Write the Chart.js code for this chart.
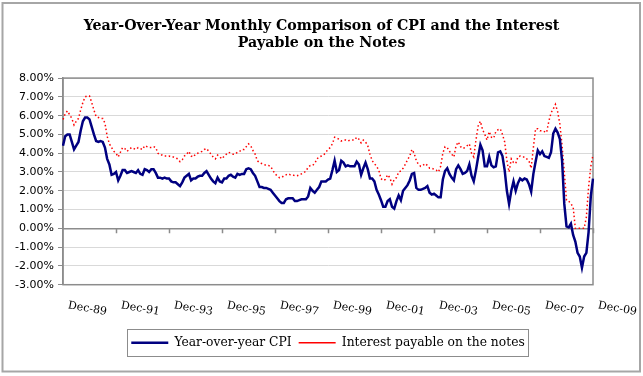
<!DOCTYPE html>
<html>
<head>
<meta charset="utf-8">
<title>CPI vs Notes</title>
<script src="https://cdn.jsdelivr.net/npm/chart.js@4.4.0/dist/chart.umd.min.js"></script>
<style>
  html, body { margin: 0; padding: 0; background: #fff; }
  canvas { display: block; }
</style>
</head>
<body>
<canvas id="cpiChart" width="643" height="376"></canvas>
<script>
// monthly categories, Dec-89 .. Dec-09
const monthNames = ["Jan", "Feb", "Mar", "Apr", "May", "Jun", "Jul", "Aug", "Sep", "Oct", "Nov", "Dec"]
const months = []
for (let i = 0; i < 241; i++) {
  const m = (11 + i) % 12
  const y = 1989 + Math.floor((11 + i) / 12)
  months.push(monthNames[m] + "-" + String(y).slice(2))
}

const tickLabels = ["Dec-89", "Dec-91", "Dec-93", "Dec-95", "Dec-97", "Dec-99", "Dec-01", "Dec-03", "Dec-05", "Dec-07", "Dec-09"]
const yTicks = [-3, -2, -1, 0, 1, 2, 3, 4, 5, 6, 7, 8]

// Year-over-year CPI, %
const cpi = [
  4.4,
  4.9, 5.0, 5.0, 4.6, 4.2, 4.4, 4.6, 5.2, 5.7, 5.9, 5.9, 5.8,
  5.4, 5.0, 4.65, 4.6, 4.65, 4.6, 4.3, 3.7, 3.4, 2.85, 2.9, 3.0,
  2.55, 2.8, 3.1, 3.1, 2.95, 3.0, 3.05, 3.0, 2.95, 3.1, 2.9, 2.85,
  3.15, 3.1, 3.0, 3.15, 3.15, 2.95, 2.7, 2.7, 2.65, 2.7, 2.65, 2.65,
  2.5, 2.45, 2.45, 2.35, 2.25, 2.45, 2.7, 2.8, 2.9, 2.55, 2.65, 2.65,
  2.75, 2.8, 2.8, 2.95, 3.05, 2.85, 2.65, 2.5, 2.4, 2.7, 2.5, 2.45,
  2.65, 2.65, 2.8, 2.85, 2.75, 2.7, 2.9, 2.85, 2.9, 2.9, 3.15, 3.2,
  3.15, 2.95, 2.8, 2.5, 2.2, 2.2, 2.15, 2.15, 2.1, 2.05, 1.9, 1.75,
  1.6, 1.45, 1.35, 1.35, 1.55, 1.6, 1.6, 1.6, 1.45, 1.45, 1.5, 1.55,
  1.55, 1.55, 1.7, 2.15, 2.0, 1.9, 2.05, 2.2, 2.5, 2.5, 2.5, 2.6,
  2.65, 3.1, 3.6, 3.0, 3.1, 3.6, 3.5, 3.3, 3.35, 3.3, 3.3, 3.3,
  3.55, 3.4, 2.85, 3.2, 3.5, 3.15, 2.65, 2.65, 2.5, 2.05, 1.8, 1.5,
  1.15, 1.15, 1.45, 1.55, 1.15, 1.05, 1.45, 1.75, 1.5, 2.0, 2.15, 2.3,
  2.55, 2.9, 2.95, 2.15, 2.05, 2.05, 2.1, 2.15, 2.25, 1.9, 1.8, 1.85,
  1.75, 1.65, 1.65, 2.6, 3.05, 3.2, 2.9, 2.7, 2.55, 3.15, 3.35, 3.15,
  2.9, 2.95, 3.05, 3.4, 2.8, 2.5, 3.1, 3.8, 4.45, 4.15, 3.3, 3.3,
  3.8, 3.35, 3.25, 3.3, 4.05, 4.1, 3.85, 3.1, 2.0, 1.3, 2.0, 2.5,
  2.0, 2.4, 2.65, 2.55, 2.65, 2.6, 2.35, 1.95, 2.9, 3.55, 4.15, 3.95,
  4.1, 3.85, 3.8, 3.75, 4.05, 5.05, 5.3, 5.1, 4.75, 3.6, 1.3, 0.1,
  0.05, 0.25, -0.35, -0.7, -1.3, -1.5, -2.1, -1.5, -1.3, -0.2, 1.7, 2.65
]

// Interest payable on the notes, %
const notesRate = [
  5.8,
  6.1, 6.25, 6.05, 5.85, 5.5, 5.7, 5.85, 6.3, 6.7, 7.0, 7.05, 7.05,
  6.7, 6.3, 5.95, 5.9, 5.85, 5.85, 5.6, 4.9, 4.5, 4.3, 4.1, 4.0,
  3.8, 4.05, 4.3, 4.25, 4.1, 4.2, 4.3, 4.25, 4.2, 4.3, 4.25, 4.2,
  4.4, 4.35, 4.3, 4.3, 4.35, 4.3, 4.0, 3.9, 3.9, 3.85, 3.85, 3.85,
  3.8, 3.8, 3.75, 3.7, 3.55, 3.65, 3.85, 3.95, 4.1, 3.85, 3.8, 3.95,
  4.0, 4.05, 4.1, 4.2, 4.25, 4.1, 3.95, 3.8, 3.7, 3.9, 3.8, 3.7,
  3.85, 3.95, 4.05, 4.0, 3.95, 3.95, 4.05, 4.1, 4.2, 4.2, 4.35, 4.5,
  4.4, 4.15, 3.95, 3.6, 3.5, 3.45, 3.4, 3.35, 3.35, 3.3, 3.1, 2.9,
  2.8, 2.7, 2.7, 2.8, 2.85, 2.9, 2.85, 2.85, 2.8, 2.8, 2.85, 2.9,
  2.95, 3.05, 3.25, 3.35, 3.35, 3.45, 3.7, 3.8, 3.85, 3.9, 4.05, 4.2,
  4.3, 4.5, 4.85, 4.8, 4.75, 4.65, 4.7, 4.7, 4.65, 4.7, 4.7, 4.7,
  4.85, 4.75, 4.55, 4.7, 4.6, 4.4, 3.95, 3.6, 3.45, 3.3, 3.1, 2.65,
  2.55, 2.6, 2.85, 2.7, 2.35, 2.6, 2.7, 3.0, 3.05, 3.2, 3.4, 3.65,
  3.85, 4.2, 4.0, 3.6, 3.4, 3.3, 3.35, 3.45, 3.35, 3.2, 3.2, 3.15,
  3.1, 3.0, 3.3, 4.0, 4.35, 4.3, 4.1, 3.95, 3.8, 4.4, 4.6, 4.35,
  4.25, 4.3, 4.4, 4.5, 4.0, 3.8, 4.7, 5.45, 5.7, 5.25, 5.0, 4.7,
  5.15, 4.85, 4.8, 5.15, 5.25, 5.3, 5.0, 4.6, 3.6, 3.0, 3.7, 3.5,
  3.45, 3.8, 3.85, 3.8, 3.8, 3.7, 3.6, 3.2, 4.3, 5.3, 5.3, 5.2,
  5.2, 5.15, 5.1, 5.7, 6.15, 6.35, 6.6, 6.2, 5.55, 4.4, 3.0, 1.5,
  1.45, 1.3, 1.15, 0.0, 0.0, 0.0, 0.0, 0.0, 0.6, 2.2, 3.3, 3.9
]

// labels sit between the 2-year tick marks, shifted for the rotated text
const labelShift = 7.8
const labelPos = tickLabels.map((_, k) => 12 + 24 * k + labelShift)

const framePlugin = {
  id: "frame",
  afterLayout(chart) {
    // center the title on the whole picture, not on the padded box
    const t = chart.titleBlock
    t.left = 0
    t.right = chart.width
    t.width = chart.width
  },
  beforeDraw(chart) {
    const ctx = chart.ctx
    ctx.save()
    ctx.fillStyle = "#fff"
    ctx.fillRect(0, 0, chart.width, chart.height)
    ctx.strokeStyle = "#a6a6a6"
    ctx.lineWidth = 2
    ctx.strokeRect(2.5, 3, 637.5, 368.5)
    ctx.restore()
  },
  beforeDatasetsDraw(chart) {
    const a = chart.chartArea
    const ctx = chart.ctx
    ctx.save()
    ctx.strokeStyle = "#8c8c8c"
    ctx.lineWidth = 1.5
    ctx.strokeRect(a.left, a.top, a.right - a.left, a.bottom - a.top)
    // 2-year tick marks under the zero line
    const xs = chart.scales.x
    const y0 = chart.scales.y.getPixelForValue(0)
    ctx.lineWidth = 1.5
    ctx.beginPath()
    for (let i = 24; i < months.length; i += 24) {
      const px = Math.round(xs.getPixelForValue(i)) + 0.5
      ctx.moveTo(px, y0)
      ctx.lineTo(px, y0 + 5)
    }
    ctx.stroke()
    ctx.restore()
  },
  afterDraw(chart) {
    const hb = chart.legend.legendHitBoxes
    if (!hb || !hb.length) return
    const last = hb[hb.length - 1]
    const l = hb[0].left - 4.5
    const r = last.left + last.width + 3
    const t = hb[0].top - 7.5
    const b = hb[0].top + hb[0].height + 7.5
    const ctx = chart.ctx
    ctx.save()
    ctx.strokeStyle = "#8c8c8c"
    ctx.lineWidth = 1
    ctx.strokeRect(Math.round(l) + 0.5, Math.round(t) + 0.5, Math.round(r - l), Math.round(b - t))
    ctx.restore()
  }
}

new Chart(document.getElementById("cpiChart"), {
  type: "line",
  data: {
    labels: months,
    datasets: [
      {
        label: "Year-over-year CPI",
        data: cpi,
        borderColor: "#000080",
        backgroundColor: "#000080",
        borderWidth: 2.5,
        pointRadius: 0,
        pointStyle: "line",
        tension: 0,
      },
      {
        label: "Interest payable on the notes",
        data: notesRate,
        borderColor: "#ff0000",
        backgroundColor: "#ff0000",
        borderWidth: 1.5,
        borderDash: [1.5, 2.5],
        pointRadius: 0,
        pointStyle: "line",
        tension: 0,
      },
    ],
  },
  options: {
    responsive: false,
    animation: false,
    devicePixelRatio: 1,
    layout: { padding: { left: 0, right: 50, top: 0, bottom: 17 } },
    plugins: {
      title: {
        display: true,
        text: ["Year-Over-Year Monthly Comparison of CPI and the Interest", "Payable on the Notes"],
        color: "#000",
        font: { family: "DejaVu Serif", size: 14.2, weight: "bold", lineHeight: 1.2 },
        padding: { top: 18, bottom: 26 },
      },
      legend: {
        position: "bottom",
        fullSize: false,
        labels: {
          color: "#000",
          font: { family: "DejaVu Serif", size: 12.3 },
          usePointStyle: true,
          pointStyleWidth: 37,
          padding: 7,
        },
      },
      tooltip: { enabled: false },
    },
    scales: {
      x: {
        type: "category",
        position: { y: 0 },
        offset: false,
        ticks: { display: false },
        grid: { display: false },
        border: { color: "#8c8c8c", width: 1.5 },
      },
      x2: {
        type: "linear",
        position: "bottom",
        min: 0,
        max: 240,
        afterBuildTicks: (s) => { s.ticks = labelPos.map((v) => ({ value: v })) },
        afterFit: (s) => { s.height = 45; s.paddingLeft = 0; s.paddingRight = 0 },
        ticks: {
          autoSkip: false,
          minRotation: -10,
          maxRotation: -10,
          padding: 13,
          color: "#000",
          font: { family: "DejaVu Serif", size: 11 },
          callback: (v, i) => tickLabels[i],
        },
        grid: { display: false },
        border: { display: false },
      },
      y: {
        min: -3,
        max: 8,
        afterBuildTicks: (s) => { s.ticks = yTicks.map((v) => ({ value: v })) },
        afterFit: (s) => { s.width = 63 },
        ticks: {
          padding: 4,
          color: "#000",
          font: { family: "DejaVu Sans", size: 11 },
          callback: (v) => v.toFixed(2) + "%",
        },
        grid: {
          color: (c) => (c.tick && c.tick.value === 0 ? "#8c8c8c" : "#d9d9d9"),
          lineWidth: 1,
          tickLength: 5,
          tickColor: "#8c8c8c",
        },
        border: { color: "#8c8c8c", width: 1.5 },
      },
    },
  },
  plugins: [framePlugin],
})
</script>
</body>
</html>
